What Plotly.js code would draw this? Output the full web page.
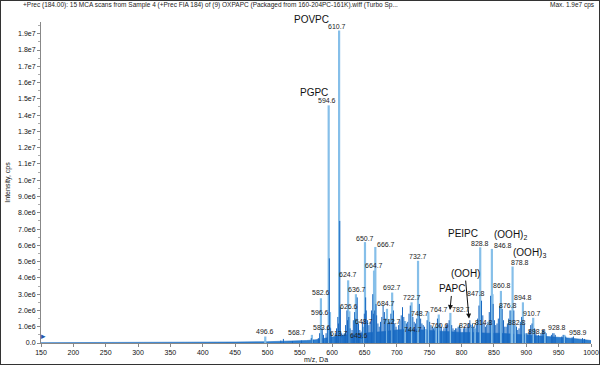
<!DOCTYPE html>
<html><head><meta charset="utf-8">
<script src="https://cdn.plot.ly/plotly-3.0.1.min.js"></script>
<style>
html,body{margin:0;padding:0;background:#fff}
#wrap{width:600px;height:365px;box-sizing:border-box;border:1px solid #333;overflow:hidden}
#chart{width:598px;height:363px}
</style>
</head><body><div id="wrap"><div id="chart"></div></div>
<script>
// Labeled peaks (m/z, intensity cps)
const labeledMz = [496.6,568.7,582.6,583.6,594.6,596.6,610.7,613.7,624.7,626.6,636.7,645.6,648.7,650.7,664.7,666.7,684.7,692.7,712.7,722.7,732.7,744.7,748.7,760.6,764.7,782.7,814.8,820.7,828.8,846.8,847.8,860.8,876.8,878.8,882.8,894.8,898.8,910.7,928.8,958.9];
const labeledH = [0.40e6,0.50e6,2.75e6,0.65e6,1.46e7,1.9e6,1.92e7,0.35e6,3.85e6,1.95e6,3.0e6,0.25e6,1.0e6,6.2e6,4.45e6,5.9e6,2.1e6,3.1e6,1.35e6,2.5e6,5.05e6,0.85e6,1.9e6,1.0e6,1.75e6,1.85e6,1.1e6,0.9e6,5.88e6,5.78e6,3.0e6,3.2e6,2.0e6,4.7e6,1.1e6,2.5e6,0.6e6,1.55e6,0.7e6,0.5e6];
const labelText = labeledMz.map(v => v.toFixed(1));

// Unlabeled peaks (m/z, intensity cps)
const minorMz = [520.6,524.6,538.6,552.6,567.7,570.7,578.6,580.6,584.6,586.6,590.6,592.6,595.6,597.6,598.6,604.7,606.7,608.7,609.7,611.7,612.7,614.7,616.7,618.7,620.7,622.7,623.7,625.7,627.7,630.7,632.7,634.7,635.7,637.7,638.7,640.7,642.7,644.7,646.7,649.7,651.7,652.7,654.7,656.7,658.7,660.7,662.7,663.7,665.7,667.7,668.7,670.7,672.7,674.7,676.7,678.7,680.7,682.7,685.7,686.7,688.7,690.7,693.7,694.7,696.7,698.7,702.7,704.7,706.7,708.7,710.7,714.7,716.7,718.7,720.7,724.7,726.7,728.7,730.7,734.7,736.7,738.7,740.7,742.7,746.7,750.7,752.7,754.7,756.7,758.7,762.7,766.7,768.7,772.7,774.7,776.7,778.7,780.7,784.7,786.7,788.7,790.7,792.7,794.7,796.7,798.7,802.7,804.7,806.8,808.8,810.8,812.8,816.8,818.8,822.8,824.8,826.8,830.8,832.8,834.8,836.8,838.8,840.8,842.8,844.8,848.8,850.8,852.8,854.8,856.8,858.8,862.8,864.8,866.8,868.8,870.8,872.8,874.8,880.8,884.8,886.8,888.8,890.8,892.8,896.8,900.8,902.8,904.8,906.8,908.8,912.8,914.8,918.8,922.8,924.8,926.8,930.8,938.8,940.8,942.8,944.8,954.9,956.9,960.9,970.9,972.9,986.9,990.0];
const minorH = [0.15e6,0.25e6,0.12e6,0.15e6,0.3e6,0.2e6,0.3e6,0.6e6,0.9e6,0.5e6,0.6e6,1.0e6,5.2e6,0.9e6,0.6e6,0.6e6,0.9e6,1.6e6,1.2e6,7.5e6,2.2e6,0.6e6,0.5e6,0.6e6,1.1e6,2.0e6,1.4e6,1.6e6,0.9e6,0.8e6,1.4e6,1.9e6,1.5e6,1.2e6,2.8e6,1.2e6,0.8e6,0.7e6,1.3e6,1.8e6,2.8e6,2.0e6,1.4e6,1.1e6,1.3e6,2.0e6,3.0e6,1.8e6,2.0e6,2.4e6,1.7e6,1.2e6,1.0e6,1.3e6,1.6e6,2.3e6,1.9e6,1.5e6,1.2e6,1.4e6,1.3e6,1.8e6,1.5e6,2.0e6,1.2e6,1.0e6,1.1e6,1.4e6,1.7e6,2.2e6,1.6e6,1.2e6,1.3e6,1.8e6,2.3e6,1.6e6,1.3e6,1.2e6,1.5e6,2.4e6,1.5e6,1.2e6,1.1e6,1.0e6,1.4e6,1.3e6,1.1e6,1.0e6,0.9e6,1.0e6,1.5e6,1.2e6,1.0e6,0.9e6,1.0e6,1.1e6,1.2e6,1.4e6,1.1e6,0.9e6,0.8e6,0.9e6,0.9e6,1.0e6,1.1e6,0.9e6,0.9e6,1.0e6,0.9e6,1.0e6,1.2e6,1.4e6,1.2e6,1.0e6,1.1e6,1.5e6,2.3e6,2.6e6,1.7e6,1.2e6,1.0e6,1.1e6,1.3e6,1.9e6,2.9e6,2.4e6,1.4e6,1.1e6,1.2e6,1.5e6,2.3e6,2.1e6,1.4e6,1.0e6,1.0e6,1.2e6,1.5e6,2.0e6,2.0e6,1.0e6,0.8e6,0.9e6,1.3e6,1.6e6,1.2e6,0.6e6,0.6e6,0.8e6,1.1e6,1.2e6,0.9e6,0.6e6,0.5e6,0.6e6,0.8e6,0.8e6,0.6e6,0.5e6,0.6e6,0.6e6,0.5e6,0.4e6,0.5e6,0.4e6,0.35e6,0.4e6,0.3e6,0.25e6];

// Noise floor envelope
const baseMz = [150,200,250,300,350,400,450,500,540,560,575,590,600,620,640,660,680,700,720,740,760,780,800,820,840,860,880,900,920,940,960,980,1000];
const baseH = [0.02e6,0.02e6,0.03e6,0.03e6,0.04e6,0.05e6,0.06e6,0.08e6,0.1e6,0.15e6,0.2e6,0.3e6,0.4e6,0.5e6,0.55e6,0.65e6,0.7e6,0.8e6,0.85e6,0.8e6,0.75e6,0.7e6,0.65e6,0.65e6,0.6e6,0.6e6,0.55e6,0.5e6,0.45e6,0.38e6,0.32e6,0.25e6,0.15e6];

const xTickVals = [150,200,250,300,350,400,450,500,550,600,650,700,750,800,850,900,950,1000];
const yTickVals = [0,1e6,2e6,3e6,4e6,5e6,6e6,7e6,8e6,9e6,1e7,1.1e7,1.2e7,1.3e7,1.4e7,1.5e7,1.6e7,1.7e7,1.8e7,1.9e7];
const yTickText = ['0.0','1.0e6','2.0e6','3.0e6','4.0e6','5.0e6','6.0e6','7.0e6','8.0e6','9.0e6','1.0e7','1.1e7','1.2e7','1.3e7','1.4e7','1.5e7','1.6e7','1.7e7','1.8e7','1.9e7'];

// label placement (pixel offsets dx, dy from peak top)
const labelOffsets = [[0,-5],[-15,-2],[0,-6],[0,-5],[-2,-5],[-10,0],[-2,-4],[-2,-4],[0,-6],[0,-5],[1,-5],[-3,-3],[0,-5],[0,-4],[0,-5],[11,-2],[-1,-5],[0,-5],[-13,0],[0,-5],[0,-4],[-13,0],[-8,1],[4,-1],[0,-5],[11,-3],[13,-3],[-7,-3],[0,-4],[11,-3],[-17,-1],[1,-5],[-3,-5],[7,-4],[2,-3],[0,-5],[11,-2],[-1,-4],[12,-4],[14,-2]];

function sticks(xs, ys){
  const X=[],Y=[];
  xs.forEach((m,i)=>{X.push(m,m,null);Y.push(0,ys[i],null);});
  return {X,Y};
}
const lab = sticks(labeledMz, labeledH);
const mnr = sticks(minorMz, minorH);

const FONT = 'Liberation Sans, Arial, Helvetica, sans-serif';

const traces = [
  {type:'scatter', x:baseMz, y:baseH, mode:'lines', line:{color:'#1f6fc2', width:0.6}, fill:'tozeroy', fillcolor:'#2f7fcf', hoverinfo:'skip', showlegend:false},
  {type:'scatter', x:lab.X, y:lab.Y, mode:'lines', line:{color:'#86bfe9', width:2.2}, hoverinfo:'skip', showlegend:false},
  {type:'scatter', x:mnr.X, y:mnr.Y, mode:'lines', line:{color:'#1767c0', width:1}, hoverinfo:'skip', showlegend:false}
];

const annotations = labeledMz.map((m,i)=>({
  x:m, y:labeledH[i], xref:'x', yref:'y', text:labelText[i], showarrow:false,
  xanchor:'center', yanchor:'middle', xshift:labelOffsets[i][0], yshift:-labelOffsets[i][1],
  font:{family:FONT, size:7, color:'#222'}
}));

const nameFont = {family:FONT, size:10, color:'#111'};
function nameAt(idx, text, dx, dy){
  return {x:labeledMz[idx], y:labeledH[idx], xref:'x', yref:'y', text:text, showarrow:false,
    xanchor:'center', yanchor:'middle', xshift:dx, yshift:-dy, font:nameFont};
}
annotations.push(nameAt(6,'POVPC',-28,-11));
annotations.push(nameAt(4,'PGPC',-15,-13));
annotations.push(nameAt(28,'PEIPC',-17,-14));
annotations.push(nameAt(29,'(OOH)<sub>2</sub>',19,-14));
annotations.push(nameAt(33,'(OOH)<sub>3</sub>',17,-13));

// labels with arrows for PAPC and (OOH)
annotations.push({x:782.1, y:2.03e6, xref:'x', yref:'y', text:'PAPC', showarrow:true, ax:2, ay:-21, standoff:0, arrowhead:2, arrowsize:1, arrowwidth:1, arrowcolor:'#111', font:nameFont});
annotations.push({x:811.5, y:1.5e6, xref:'x', yref:'y', text:'(OOH)', showarrow:true, ax:-4, ay:-45, standoff:0, arrowhead:2, arrowsize:1, arrowwidth:1, arrowcolor:'#111', font:nameFont});

annotations.push({xref:'paper', yref:'paper', x:1, y:1, xanchor:'right', yanchor:'middle', xshift:6, yshift:17, text:'Max. 1.9e7 cps', showarrow:false, font:{family:FONT, size:6.5, color:'#222'}});
annotations.push({xref:'paper', yref:'paper', x:0, y:0, xanchor:'left', yanchor:'bottom', xshift:-2, yshift:0, text:'\u25B8', showarrow:false, font:{family:'DejaVu Sans', size:9, color:'#2255aa'}});

const layout = {
  width:598, height:363, autosize:false,
  margin:{l:40, r:8, t:21, b:21, pad:0},
  paper_bgcolor:'#fff', plot_bgcolor:'#fff',
  font:{family:FONT, size:7, color:'#111'},
  title:{text:'+Prec (184.00): 15 MCA scans from Sample 4 (+Prec FIA 184) of (9) OXPAPC (Packaged from 160-204PC-161K).wiff (Turbo Sp...',
    font:{family:FONT, size:6.5, color:'#222'}, x:22/598, xref:'container', xanchor:'left', y:1-4/363, yref:'container', yanchor:'middle'},
  xaxis:{range:[150,1000], tickmode:'array', tickvals:xTickVals, ticks:'outside', ticklen:3, tickcolor:'#888',
    showline:true, linecolor:'#888', linewidth:1, showgrid:false, zeroline:false,
    tickfont:{family:FONT, size:7, color:'#111'},
    title:{text:'m/z, Da', font:{family:FONT, size:7, color:'#111'}, standoff:1}},
  yaxis:{range:[0,1.972e7], tickmode:'array', tickvals:yTickVals, ticktext:yTickText, ticks:'outside', ticklen:3, tickcolor:'#888',
    minor:{tick0:0, dtick:5e5, ticks:'outside', ticklen:2, tickcolor:'#aaa'},
    showline:true, linecolor:'#888', linewidth:1, showgrid:false, zeroline:false,
    tickfont:{family:FONT, size:7, color:'#111'},
    title:{text:'Intensity, cps', font:{family:FONT, size:7, color:'#111'}, standoff:6}},
  annotations:annotations,
  showlegend:false
};

Plotly.newPlot('chart', traces, layout, {displayModeBar:false, staticPlot:true});
</script>
</body></html>
